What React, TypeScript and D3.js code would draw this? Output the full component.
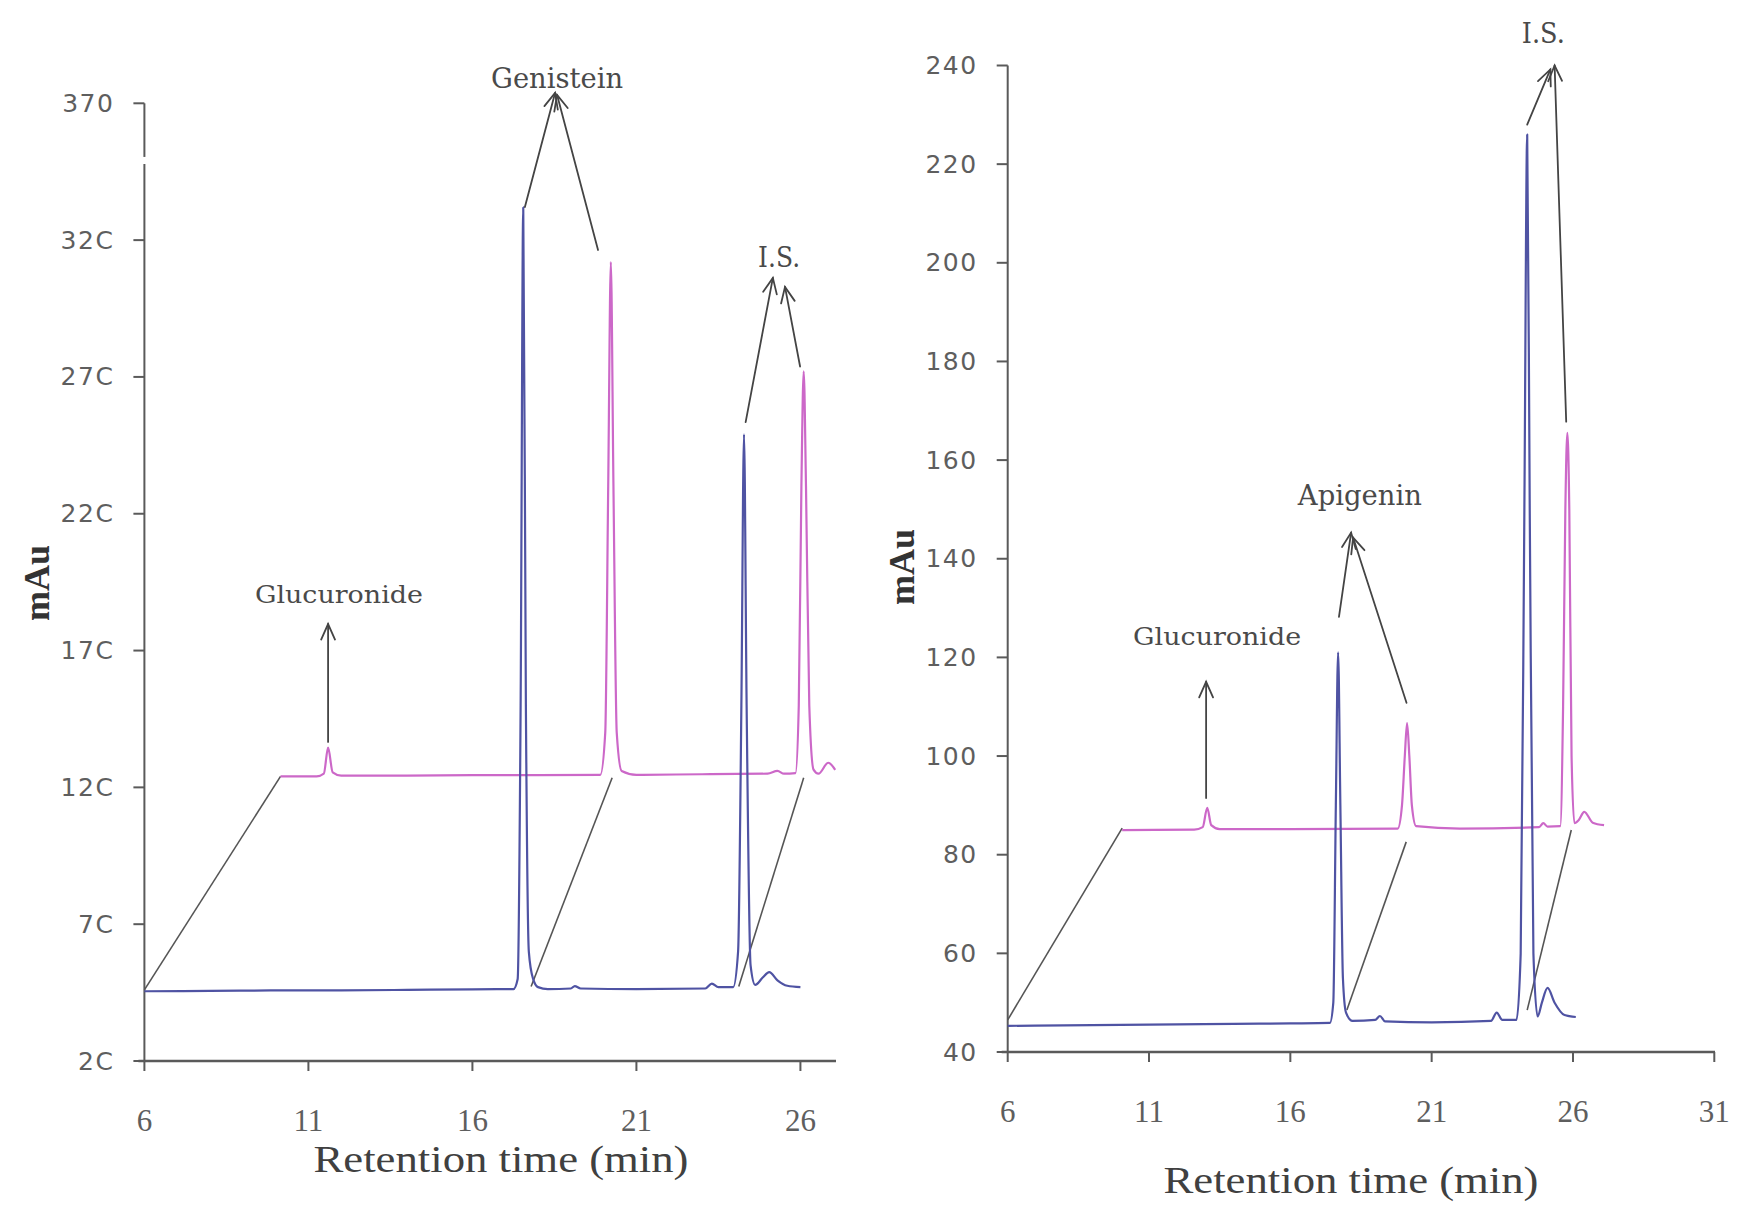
import React from 'react';
import * as d3 from 'd3';

// ---------- LEFT PANEL DATA ----------
const leftXTicks = [6, 11, 16, 21, 26];
const leftYTicks = [20, 70, 120, 170, 220, 270, 320, 370];
const leftYTickLabels = ['2C', '7C', '12C', '17C', '22C', '27C', '32C', '370'];

const leftBlue: [number, number][] = [
  [6, 45.5], [8, 45.6], [10, 45.8], [12, 45.8], [14, 46], [16, 46.2], [17.25, 46.3],
  [17.38, 50], [17.47, 150], [17.55, 332], [17.63, 150], [17.72, 60], [17.85, 50],
  [18.0, 47], [18.3, 46.3], [19.0, 46.5], [19.12, 47.4], [19.3, 46.5], [21, 46.3],
  [23.1, 46.5], [23.3, 48.3], [23.5, 47], [23.95, 47], [24.1, 60], [24.2, 150],
  [24.28, 249], [24.36, 150], [24.48, 55], [24.62, 47.8], [24.85, 50.5], [25.05, 52.5],
  [25.3, 49.5], [25.6, 47.5], [26.0, 47],
];

const leftPink: [number, number][] = [
  [10.15, 124], [11.25, 124], [11.47, 125], [11.6, 134.5], [11.74, 125.5], [12, 124.3],
  [14, 124.3], [16, 124.5], [18, 124.5], [19.9, 124.6], [20.05, 140], [20.14, 230],
  [20.22, 312], [20.3, 230], [20.4, 140], [20.55, 126], [21, 124.6], [23, 124.8],
  [25.0, 125], [25.3, 126], [25.5, 125], [25.85, 125.2], [25.95, 150], [26.03, 230],
  [26.1, 272], [26.17, 230], [26.27, 150], [26.4, 126.5], [26.55, 125], [26.85, 129],
  [27.06, 126.4],
];

// connecting lines: [t1, v1, t2, v2]
const leftLinks: [number, number, number, number][] = [
  [6, 46, 10.15, 124],
  [17.79, 47.2, 20.26, 123.5],
  [24.12, 47.2, 26.1, 123.5],
];

// arrows: [tStart, vStart, tTip, vTip]
const leftArrows: [number, number, number, number][] = [
  [11.6, 136.6, 11.6, 179.7],
  [17.6, 332.1, 18.52, 373.8],
  [19.83, 316.4, 18.58, 373.1],
  [24.33, 253.5, 25.16, 306.2],
  [25.99, 273.8, 25.53, 302.9],
];

const leftLabelTexts = ['Glucuronide', 'Genistein', 'I.S.'];
const leftLabelPos: [number, number][] = [[11.93, 187.2], [18.58, 375.6], [25.35, 310.2]];

// ---------- RIGHT PANEL DATA ----------
const rightXTicks = [6, 11, 16, 21, 26, 31];
const rightYTicks = [40, 60, 80, 100, 120, 140, 160, 180, 200, 220, 240];
const rightYTickLabels = ['40', '60', '80', '100', '120', '140', '160', '180', '200', '220', '240'];

const rightBlue: [number, number][] = [
  [6, 45.3], [8, 45.4], [10, 45.5], [12, 45.6], [14, 45.7], [16, 45.8], [17.4, 45.9],
  [17.52, 50], [17.61, 90], [17.69, 121], [17.77, 90], [17.86, 55], [17.97, 48],
  [18.2, 46.3], [19.0, 46.5], [19.17, 47.3], [19.35, 46.2], [21, 46], [23.1, 46.3],
  [23.3, 48], [23.5, 46.5], [24.0, 46.5], [24.15, 60], [24.28, 150], [24.38, 226],
  [24.47, 150], [24.6, 60], [24.75, 47.2], [24.9, 50], [25.1, 53], [25.35, 50],
  [25.7, 47.5], [26.1, 47.1],
];

const rightPink: [number, number][] = [
  [10.05, 85], [12.6, 85.1], [12.9, 85.6], [13.06, 89.5], [13.2, 86], [13.5, 85.2],
  [16, 85.2], [19.8, 85.3], [19.95, 90], [20.05, 100], [20.13, 106.7], [20.21, 100],
  [20.3, 90], [20.45, 85.8], [22, 85.3], [24.8, 85.6], [24.95, 86.4], [25.1, 85.7],
  [25.55, 85.8], [25.65, 110], [25.73, 150], [25.8, 165.5], [25.87, 150], [25.95, 100],
  [26.05, 86.4], [26.2, 87], [26.4, 88.7], [26.7, 86.5], [27.1, 86],
];

const rightLinks: [number, number, number, number][] = [
  [6, 46.5, 10.05, 85.4],
  [18.0, 48.5, 20.1, 82.6],
  [24.38, 48.5, 25.94, 85],
];

const rightArrows: [number, number, number, number][] = [
  [13.02, 91.5, 13.02, 115.05],
  [17.72, 128.2, 18.15, 145.3],
  [20.11, 110.8, 18.22, 144.3],
  [24.38, 228, 25.2, 239.2],
  [25.76, 167.8, 25.35, 240],
];

const rightLabelTexts = ['Glucuronide', 'Apigenin', 'I.S.'];
const rightLabelPos: [number, number][] = [[13.41, 122.6], [18.46, 150.9], [24.95, 244.5]];

// ---------- STYLES ----------
const AXIS = '#5a5a5a';
const TICKTXT = '#5e5e5e';
const BLUE = '#4f53a3';
const PINK = '#cc68c8';
const ANNO = '#444';

type PanelProps = {
  x0: number; x1: number; xDom: [number, number];
  y0: number; y1: number; yDom: [number, number];
  xTicks: number[]; yTicks: number[]; yLabels: string[];
  blue: [number, number][]; pink: [number, number][];
  links: [number, number, number, number][];
  arrows: [number, number, number, number][];
  labels: string[]; labelPos: [number, number][];
  labelSizes: number[]; labelLens: number[];
  axisEnd: number;
  titleY: number; titleX: number;
  mauX: number; mauY: number;
  yBreak?: [number, number];
};

function Panel(p: PanelProps) {
  const xs = d3.scaleLinear().domain(p.xDom).range([p.x0, p.x1]);
  const ys = d3.scaleLinear().domain(p.yDom).range([p.y0, p.y1]);
  const line = d3.line<[number, number]>()
    .x(d => xs(d[0])).y(d => ys(d[1]))
    .curve(d3.curveMonotoneX);
  const ax = xs(p.xDom[0]);
  const ay = ys(p.yDom[0]);
  const top = ys(p.yDom[1]);

  const arrowHead = (a: [number, number, number, number], i: number) => {
    const sx = xs(a[0]), sy = ys(a[1]), tx = xs(a[2]), ty = ys(a[3]);
    const ang = Math.atan2(ty - sy, tx - sx);
    const L = 17, spread = 0.42;
    const p1 = [tx - L * Math.cos(ang - spread), ty - L * Math.sin(ang - spread)];
    const p2 = [tx - L * Math.cos(ang + spread), ty - L * Math.sin(ang + spread)];
    return (
      <g key={'ar' + i} stroke={ANNO} strokeWidth={1.8} fill="none" strokeLinecap="round">
        <line x1={sx} y1={sy} x2={tx} y2={ty} />
        <polyline points={`${p1[0]},${p1[1]} ${tx},${ty} ${p2[0]},${p2[1]}`} />
      </g>
    );
  };

  return (
    <g>
      {/* y axis */}
      {p.yBreak ? (
        <g stroke={AXIS} strokeWidth={2}>
          <line x1={ax} y1={top} x2={ax} y2={ys(p.yBreak[1])} />
          <line x1={ax} y1={ys(p.yBreak[0])} x2={ax} y2={ay} />
        </g>
      ) : (
        <line x1={ax} y1={top} x2={ax} y2={ay} stroke={AXIS} strokeWidth={2} />
      )}
      {p.yTicks.map((t, i) => (
        <g key={'yt' + i}>
          <line x1={ax - 11} x2={ax} y1={ys(t)} y2={ys(t)} stroke={AXIS} strokeWidth={2} />
          <text x={ax - 30} y={ys(t)} textAnchor="end" dominantBaseline="central"
            fontFamily="DejaVu Sans" fontSize={25} fill={TICKTXT} letterSpacing={1.5}>
            {p.yLabels[i]}
          </text>
        </g>
      ))}
      {/* x axis */}
      <line x1={ax - 6} x2={p.axisEnd} y1={ay} y2={ay} stroke={AXIS} strokeWidth={2.5} />
      {p.xTicks.map((t, i) => (
        <g key={'xt' + i}>
          <line x1={xs(t)} x2={xs(t)} y1={ay} y2={ay + 10} stroke={AXIS} strokeWidth={2} />
          <text x={xs(t)} y={ay + 70} textAnchor="middle"
            fontFamily="Liberation Serif" fontSize={31} fill={TICKTXT}>
            {t}
          </text>
        </g>
      ))}
      <text x={p.titleX} y={p.titleY} textAnchor="middle" fontFamily="Liberation Serif"
        fontSize={38} fill="#404040" textLength={375} lengthAdjust="spacingAndGlyphs">
        Retention time (min)
      </text>
      <text x={p.mauX} y={p.mauY} textAnchor="middle" dominantBaseline="central"
        transform={`rotate(-90 ${p.mauX} ${p.mauY})`} fontFamily="Liberation Serif"
        fontWeight="bold" fontSize={36} fill="#333">
        mAu
      </text>

      {/* links */}
      {p.links.map((l, i) => (
        <line key={'lk' + i} x1={xs(l[0])} y1={ys(l[1])} x2={xs(l[2])} y2={ys(l[3])}
          stroke="#555" strokeWidth={1.6} />
      ))}

      {/* traces */}
      <path d={line(p.pink) || ''} fill="none" stroke={PINK} strokeWidth={2.2} strokeLinejoin="round" />
      <path d={line(p.blue) || ''} fill="none" stroke={BLUE} strokeWidth={2.2} strokeLinejoin="round" />

      {/* arrows */}
      {p.arrows.map((a, i) => arrowHead(a, i))}

      {/* labels */}
      {p.labels.map((s, i) => (
        <text key={'lb' + i} x={xs(p.labelPos[i][0])} y={ys(p.labelPos[i][1])} textAnchor="middle"
          fontFamily="DejaVu Serif" fontSize={p.labelSizes[i]} fill="#4a4a4a"
          textLength={p.labelLens[i]} lengthAdjust="spacingAndGlyphs">
          {s}
        </text>
      ))}
    </g>
  );
}

export default function App() {
  return (
    <svg width={1742} height={1213} viewBox="0 0 1742 1213"
      style={{ position: 'absolute', left: 0, top: 0, background: '#fff' }}>
      <rect x={0} y={0} width={1742} height={1213} fill="#fff" />
      <Panel
        x0={144.4} x1={836.5} xDom={[6, 27.1]}
        y0={1061} y1={103.3} yDom={[20, 370]}
        xTicks={leftXTicks} yTicks={leftYTicks} yLabels={leftYTickLabels}
        blue={leftBlue} pink={leftPink} links={leftLinks} arrows={leftArrows}
        labels={leftLabelTexts} labelPos={leftLabelPos}
        labelSizes={[25, 28, 28]} labelLens={[168, 132, 42]}
        axisEnd={836}
        titleX={501} titleY={1172}
        mauX={37} mauY={583}
        yBreak={[347.8, 350.4]}
      />
      <Panel
        x0={1007.7} x1={1714.3} xDom={[6, 31]}
        y0={1052} y1={65.5} yDom={[40, 240]}
        xTicks={rightXTicks} yTicks={rightYTicks} yLabels={rightYTickLabels}
        blue={rightBlue} pink={rightPink} links={rightLinks} arrows={rightArrows}
        labels={rightLabelTexts} labelPos={rightLabelPos}
        labelSizes={[25, 27, 27]} labelLens={[168, 124, 43]}
        axisEnd={1715}
        titleX={1351} titleY={1193}
        mauX={902} mauY={567}
      />
    </svg>
  );
}
